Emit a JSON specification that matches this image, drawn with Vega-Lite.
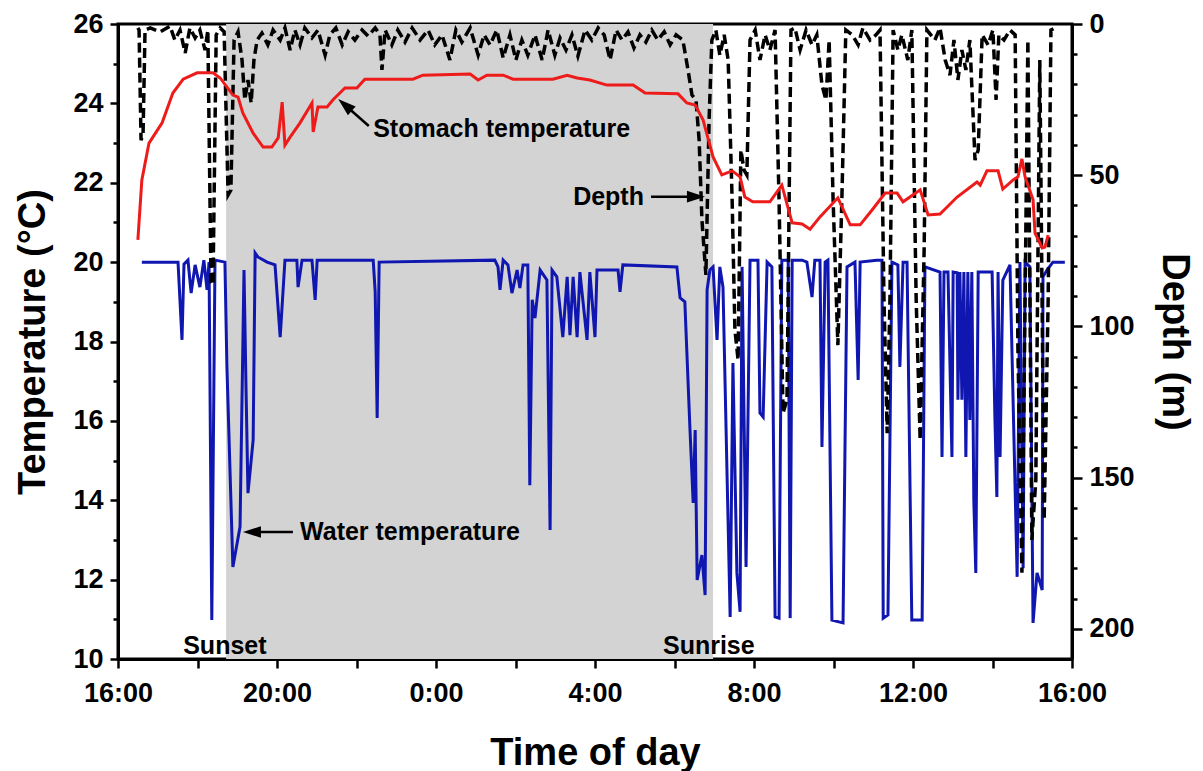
{
  "$schema": "https://vega.github.io/schema/vega-lite/v6.json",
  "width": 954,
  "height": 635,
  "autosize": {"type": "none"},
  "padding": {"left": 118, "top": 24, "right": 131, "bottom": 112},
  "background": "white",
  "config": {
    "view": {"stroke": "black", "strokeWidth": 3},
    "axis": {
      "grid": false,
      "domainColor": "black",
      "domainWidth": 3,
      "tickColor": "black",
      "tickWidth": 2.5,
      "labelFont": "Liberation Sans",
      "labelFontSize": 27,
      "labelFontWeight": "bold",
      "labelColor": "black",
      "labelFlush": false,
      "labelOverlap": false,
      "labelBound": false,
      "titleFont": "Liberation Sans",
      "titleFontSize": 38,
      "titleFontWeight": "bold",
      "titleColor": "black"
    }
  },
  "datasets": {
    "night": [{"sunset": 18.72, "sunrise": 30.97}],
    "water": [
      {"hour": 16.60, "temp": 20.0}, {"hour": 17.51, "temp": 20.0}, {"hour": 17.61, "temp": 18.04}, {"hour": 17.66, "temp": 19.95},
      {"hour": 17.76, "temp": 20.05}, {"hour": 17.84, "temp": 19.22}, {"hour": 17.94, "temp": 19.93}, {"hour": 18.06, "temp": 19.37},
      {"hour": 18.16, "temp": 20.05}, {"hour": 18.24, "temp": 19.30}, {"hour": 18.29, "temp": 20.0}, {"hour": 18.36, "temp": 10.98},
      {"hour": 18.44, "temp": 20.05}, {"hour": 18.69, "temp": 20.0}, {"hour": 18.74, "temp": 17.36}, {"hour": 18.89, "temp": 12.32},
      {"hour": 19.07, "temp": 13.33}, {"hour": 19.17, "temp": 19.80}, {"hour": 19.22, "temp": 16.85}, {"hour": 19.27, "temp": 14.18},
      {"hour": 19.40, "temp": 15.52}, {"hour": 19.45, "temp": 20.23}, {"hour": 19.52, "temp": 20.13}, {"hour": 19.75, "temp": 20.0},
      {"hour": 19.95, "temp": 19.93}, {"hour": 20.08, "temp": 18.11}, {"hour": 20.20, "temp": 20.05}, {"hour": 20.50, "temp": 20.05},
      {"hour": 20.53, "temp": 19.37}, {"hour": 20.63, "temp": 20.05}, {"hour": 20.88, "temp": 20.05}, {"hour": 20.96, "temp": 19.05},
      {"hour": 21.01, "temp": 20.05}, {"hour": 22.42, "temp": 20.05}, {"hour": 22.47, "temp": 19.25}, {"hour": 22.52, "temp": 16.07},
      {"hour": 22.57, "temp": 20.0}, {"hour": 25.48, "temp": 20.05}, {"hour": 25.56, "temp": 19.88}, {"hour": 25.61, "temp": 19.30},
      {"hour": 25.69, "temp": 20.05}, {"hour": 25.81, "temp": 19.93}, {"hour": 25.91, "temp": 19.22}, {"hour": 26.04, "temp": 19.80},
      {"hour": 26.11, "temp": 19.35}, {"hour": 26.19, "temp": 19.93}, {"hour": 26.31, "temp": 19.93}, {"hour": 26.36, "temp": 14.38},
      {"hour": 26.42, "temp": 19.05}, {"hour": 26.49, "temp": 18.59}, {"hour": 26.62, "temp": 19.80}, {"hour": 26.79, "temp": 19.55},
      {"hour": 26.87, "temp": 13.25}, {"hour": 26.92, "temp": 19.80}, {"hour": 27.04, "temp": 19.63}, {"hour": 27.19, "temp": 18.11},
      {"hour": 27.30, "temp": 19.63}, {"hour": 27.37, "temp": 18.16}, {"hour": 27.45, "temp": 19.63}, {"hour": 27.55, "temp": 18.11},
      {"hour": 27.62, "temp": 19.75}, {"hour": 27.80, "temp": 18.04}, {"hour": 27.87, "temp": 19.75}, {"hour": 28.00, "temp": 18.11},
      {"hour": 28.05, "temp": 19.80}, {"hour": 28.58, "temp": 19.80}, {"hour": 28.63, "temp": 19.25}, {"hour": 28.70, "temp": 19.93},
      {"hour": 30.06, "temp": 19.88}, {"hour": 30.14, "temp": 19.10}, {"hour": 30.26, "temp": 19.0}, {"hour": 30.39, "temp": 15.77},
      {"hour": 30.47, "temp": 13.93}, {"hour": 30.52, "temp": 15.77}, {"hour": 30.57, "temp": 11.99}, {"hour": 30.69, "temp": 12.62},
      {"hour": 30.77, "temp": 11.61}, {"hour": 30.82, "temp": 19.30}, {"hour": 30.89, "temp": 19.80}, {"hour": 30.97, "temp": 19.88},
      {"hour": 31.07, "temp": 18.04}, {"hour": 31.14, "temp": 19.88}, {"hour": 31.22, "temp": 19.37}, {"hour": 31.40, "temp": 11.06},
      {"hour": 31.47, "temp": 17.46}, {"hour": 31.57, "temp": 12.17}, {"hour": 31.65, "temp": 11.19}, {"hour": 31.70, "temp": 19.88},
      {"hour": 31.80, "temp": 12.32}, {"hour": 31.90, "temp": 20.05}, {"hour": 32.10, "temp": 20.05}, {"hour": 32.15, "temp": 16.20},
      {"hour": 32.23, "temp": 16.10}, {"hour": 32.33, "temp": 20.0}, {"hour": 32.45, "temp": 19.88}, {"hour": 32.53, "temp": 11.06},
      {"hour": 32.63, "temp": 11.03}, {"hour": 32.70, "temp": 20.05}, {"hour": 32.86, "temp": 20.05}, {"hour": 32.91, "temp": 11.03},
      {"hour": 32.96, "temp": 20.05}, {"hour": 33.21, "temp": 20.05}, {"hour": 33.33, "temp": 20.0}, {"hour": 33.46, "temp": 19.12},
      {"hour": 33.53, "temp": 20.05}, {"hour": 33.66, "temp": 20.05}, {"hour": 33.71, "temp": 15.34}, {"hour": 33.79, "temp": 20.0},
      {"hour": 33.86, "temp": 20.05}, {"hour": 33.96, "temp": 10.98}, {"hour": 34.24, "temp": 10.91}, {"hour": 34.34, "temp": 19.88},
      {"hour": 34.54, "temp": 20.0}, {"hour": 34.62, "temp": 17.03}, {"hour": 34.67, "temp": 20.0}, {"hour": 35.09, "temp": 20.05},
      {"hour": 35.22, "temp": 20.05}, {"hour": 35.25, "temp": 11.03}, {"hour": 35.37, "temp": 11.11}, {"hour": 35.47, "temp": 20.0},
      {"hour": 35.62, "temp": 19.93}, {"hour": 35.67, "temp": 17.36}, {"hour": 35.75, "temp": 20.0}, {"hour": 35.85, "temp": 20.0},
      {"hour": 35.97, "temp": 10.98}, {"hour": 36.23, "temp": 10.98}, {"hour": 36.30, "temp": 19.88}, {"hour": 36.68, "temp": 19.75},
      {"hour": 36.73, "temp": 15.09}, {"hour": 36.78, "temp": 19.75}, {"hour": 36.88, "temp": 19.75}, {"hour": 36.98, "temp": 15.09},
      {"hour": 37.01, "temp": 19.75}, {"hour": 37.11, "temp": 19.73}, {"hour": 37.13, "temp": 16.53}, {"hour": 37.18, "temp": 19.75},
      {"hour": 37.23, "temp": 16.53}, {"hour": 37.28, "temp": 19.75}, {"hour": 37.33, "temp": 15.09}, {"hour": 37.38, "temp": 19.75},
      {"hour": 37.43, "temp": 16.02}, {"hour": 37.48, "temp": 19.75}, {"hour": 37.53, "temp": 14.0}, {"hour": 37.58, "temp": 12.17},
      {"hour": 37.64, "temp": 19.75}, {"hour": 37.86, "temp": 19.75}, {"hour": 37.99, "temp": 19.75}, {"hour": 38.06, "temp": 16.10},
      {"hour": 38.11, "temp": 14.08}, {"hour": 38.14, "temp": 19.75}, {"hour": 38.19, "temp": 15.09}, {"hour": 38.26, "temp": 19.55},
      {"hour": 38.44, "temp": 19.93}, {"hour": 38.62, "temp": 12.07}, {"hour": 38.69, "temp": 20.0}, {"hour": 38.77, "temp": 12.29},
      {"hour": 38.82, "temp": 20.0}, {"hour": 38.94, "temp": 19.88}, {"hour": 39.02, "temp": 10.91}, {"hour": 39.12, "temp": 12.17},
      {"hour": 39.25, "temp": 11.74}, {"hour": 39.27, "temp": 19.63}, {"hour": 39.37, "temp": 19.80}, {"hour": 39.52, "temp": 20.0},
      {"hour": 39.82, "temp": 20.0}
    ],
    "stomach": [
      {"hour": 16.50, "temp": 20.56}, {"hour": 16.60, "temp": 22.07}, {"hour": 16.78, "temp": 23.0}, {"hour": 17.11, "temp": 23.51},
      {"hour": 17.38, "temp": 24.26}, {"hour": 17.64, "temp": 24.61}, {"hour": 17.99, "temp": 24.77}, {"hour": 18.39, "temp": 24.77},
      {"hour": 18.57, "temp": 24.64}, {"hour": 18.89, "temp": 24.21}, {"hour": 19.02, "temp": 24.16}, {"hour": 19.14, "temp": 23.76},
      {"hour": 19.40, "temp": 23.25}, {"hour": 19.65, "temp": 22.90}, {"hour": 19.87, "temp": 22.90}, {"hour": 20.03, "temp": 23.13},
      {"hour": 20.13, "temp": 24.03}, {"hour": 20.20, "temp": 22.95}, {"hour": 20.33, "temp": 23.15}, {"hour": 20.58, "temp": 23.51},
      {"hour": 20.88, "temp": 24.01}, {"hour": 20.91, "temp": 23.28}, {"hour": 21.03, "temp": 23.91}, {"hour": 21.26, "temp": 23.91},
      {"hour": 21.41, "temp": 24.09}, {"hour": 21.71, "temp": 24.39}, {"hour": 22.01, "temp": 24.39}, {"hour": 22.21, "temp": 24.61},
      {"hour": 23.42, "temp": 24.61}, {"hour": 23.67, "temp": 24.71}, {"hour": 24.86, "temp": 24.74}, {"hour": 25.06, "temp": 24.59},
      {"hour": 25.28, "temp": 24.71}, {"hour": 25.69, "temp": 24.71}, {"hour": 25.94, "temp": 24.61}, {"hour": 26.94, "temp": 24.61},
      {"hour": 27.30, "temp": 24.71}, {"hour": 27.55, "temp": 24.64}, {"hour": 27.87, "temp": 24.59}, {"hour": 28.30, "temp": 24.46},
      {"hour": 28.96, "temp": 24.46}, {"hour": 29.26, "temp": 24.26}, {"hour": 30.09, "temp": 24.24}, {"hour": 30.31, "temp": 24.01},
      {"hour": 30.52, "temp": 23.96}, {"hour": 30.72, "temp": 23.58}, {"hour": 30.97, "temp": 22.65}, {"hour": 31.19, "temp": 22.20},
      {"hour": 31.45, "temp": 22.30}, {"hour": 31.65, "temp": 22.15}, {"hour": 31.77, "temp": 21.64}, {"hour": 31.97, "temp": 21.52},
      {"hour": 32.40, "temp": 21.52}, {"hour": 32.70, "temp": 21.94}, {"hour": 32.96, "temp": 20.99}, {"hour": 33.21, "temp": 20.96},
      {"hour": 33.41, "temp": 20.83}, {"hour": 33.66, "temp": 21.14}, {"hour": 34.11, "temp": 21.62}, {"hour": 34.42, "temp": 20.94},
      {"hour": 34.67, "temp": 20.94}, {"hour": 34.99, "temp": 21.34}, {"hour": 35.30, "temp": 21.74}, {"hour": 35.60, "temp": 21.74},
      {"hour": 35.75, "temp": 21.52}, {"hour": 36.18, "temp": 21.82}, {"hour": 36.38, "temp": 21.19}, {"hour": 36.68, "temp": 21.21},
      {"hour": 37.11, "temp": 21.64}, {"hour": 37.61, "temp": 22.02}, {"hour": 37.69, "temp": 21.94}, {"hour": 37.86, "temp": 22.30},
      {"hour": 38.14, "temp": 22.30}, {"hour": 38.26, "temp": 21.84}, {"hour": 38.52, "temp": 22.07}, {"hour": 38.64, "temp": 22.15},
      {"hour": 38.74, "temp": 22.60}, {"hour": 38.82, "temp": 22.15}, {"hour": 39.02, "temp": 21.57}, {"hour": 39.07, "temp": 20.73},
      {"hour": 39.25, "temp": 20.36}, {"hour": 39.32, "temp": 20.38}, {"hour": 39.40, "temp": 20.68}
    ],
    "depth": [
      {"hour": 16.50, "depth": 1.3}, {"hour": 16.53, "depth": 2.0}, {"hour": 16.58, "depth": 38.4}, {"hour": 16.63, "depth": 36.7},
      {"hour": 16.68, "depth": 2.0}, {"hour": 16.81, "depth": 1.3}, {"hour": 17.06, "depth": 2.6}, {"hour": 17.31, "depth": 0.7},
      {"hour": 17.43, "depth": 5.3}, {"hour": 17.56, "depth": 2.0}, {"hour": 17.69, "depth": 9.6}, {"hour": 17.81, "depth": 1.3},
      {"hour": 17.94, "depth": 4.6}, {"hour": 18.06, "depth": 2.0}, {"hour": 18.19, "depth": 8.6}, {"hour": 18.26, "depth": 2.0},
      {"hour": 18.34, "depth": 85.3}, {"hour": 18.39, "depth": 86.3}, {"hour": 18.47, "depth": 3.6}, {"hour": 18.57, "depth": 1.3},
      {"hour": 18.67, "depth": 2.6}, {"hour": 18.77, "depth": 56.5}, {"hour": 18.84, "depth": 54.9}, {"hour": 18.92, "depth": 5.3},
      {"hour": 19.02, "depth": 2.6}, {"hour": 19.12, "depth": 11.9}, {"hour": 19.19, "depth": 25.1}, {"hour": 19.27, "depth": 18.5},
      {"hour": 19.35, "depth": 26.1}, {"hour": 19.42, "depth": 11.9}, {"hour": 19.50, "depth": 5.3}, {"hour": 19.62, "depth": 3.0},
      {"hour": 19.77, "depth": 6.9}, {"hour": 19.90, "depth": 2.0}, {"hour": 20.08, "depth": 5.3}, {"hour": 20.20, "depth": 1.3},
      {"hour": 20.33, "depth": 8.6}, {"hour": 20.45, "depth": 2.0}, {"hour": 20.58, "depth": 6.9}, {"hour": 20.70, "depth": 1.3},
      {"hour": 20.88, "depth": 4.6}, {"hour": 21.03, "depth": 2.0}, {"hour": 21.21, "depth": 10.3}, {"hour": 21.33, "depth": 3.6},
      {"hour": 21.48, "depth": 1.3}, {"hour": 21.64, "depth": 6.9}, {"hour": 21.79, "depth": 2.6}, {"hour": 21.96, "depth": 5.3},
      {"hour": 22.14, "depth": 2.0}, {"hour": 22.29, "depth": 4.0}, {"hour": 22.47, "depth": 1.3}, {"hour": 22.59, "depth": 3.6},
      {"hour": 22.64, "depth": 15.2}, {"hour": 22.72, "depth": 2.0}, {"hour": 22.89, "depth": 6.9}, {"hour": 23.04, "depth": 2.0},
      {"hour": 23.22, "depth": 6.0}, {"hour": 23.40, "depth": 1.3}, {"hour": 23.60, "depth": 5.3}, {"hour": 23.80, "depth": 2.0},
      {"hour": 23.97, "depth": 6.9}, {"hour": 24.15, "depth": 3.6}, {"hour": 24.35, "depth": 11.9}, {"hour": 24.50, "depth": 2.0},
      {"hour": 24.65, "depth": 6.0}, {"hour": 24.86, "depth": 1.3}, {"hour": 25.06, "depth": 10.3}, {"hour": 25.21, "depth": 3.6},
      {"hour": 25.36, "depth": 6.9}, {"hour": 25.53, "depth": 2.0}, {"hour": 25.69, "depth": 11.2}, {"hour": 25.86, "depth": 3.6},
      {"hour": 26.01, "depth": 11.9}, {"hour": 26.16, "depth": 5.3}, {"hour": 26.31, "depth": 10.3}, {"hour": 26.49, "depth": 3.6},
      {"hour": 26.67, "depth": 11.9}, {"hour": 26.82, "depth": 2.0}, {"hour": 26.99, "depth": 10.3}, {"hour": 27.12, "depth": 4.6},
      {"hour": 27.27, "depth": 8.6}, {"hour": 27.42, "depth": 3.6}, {"hour": 27.57, "depth": 10.6}, {"hour": 27.75, "depth": 2.0},
      {"hour": 27.92, "depth": 5.3}, {"hour": 28.08, "depth": 1.3}, {"hour": 28.23, "depth": 3.6}, {"hour": 28.38, "depth": 11.9},
      {"hour": 28.53, "depth": 2.0}, {"hour": 28.68, "depth": 5.3}, {"hour": 28.83, "depth": 2.6}, {"hour": 28.98, "depth": 7.9},
      {"hour": 29.13, "depth": 3.6}, {"hour": 29.28, "depth": 6.0}, {"hour": 29.43, "depth": 2.0}, {"hour": 29.58, "depth": 5.3},
      {"hour": 29.74, "depth": 2.6}, {"hour": 29.89, "depth": 6.9}, {"hour": 30.04, "depth": 3.6}, {"hour": 30.21, "depth": 5.3},
      {"hour": 30.34, "depth": 15.2}, {"hour": 30.44, "depth": 23.5}, {"hour": 30.54, "depth": 25.1}, {"hour": 30.62, "depth": 38.4},
      {"hour": 30.69, "depth": 64.8}, {"hour": 30.79, "depth": 83.0}, {"hour": 30.87, "depth": 31.7}, {"hour": 30.94, "depth": 5.3},
      {"hour": 31.04, "depth": 2.0}, {"hour": 31.14, "depth": 10.3}, {"hour": 31.25, "depth": 3.6}, {"hour": 31.35, "depth": 11.9},
      {"hour": 31.45, "depth": 58.2}, {"hour": 31.52, "depth": 101.2}, {"hour": 31.60, "depth": 111.1}, {"hour": 31.67, "depth": 41.7},
      {"hour": 31.75, "depth": 48.3}, {"hour": 31.82, "depth": 49.9}, {"hour": 31.90, "depth": 5.3}, {"hour": 32.03, "depth": 2.0},
      {"hour": 32.15, "depth": 11.9}, {"hour": 32.28, "depth": 3.6}, {"hour": 32.40, "depth": 8.6}, {"hour": 32.53, "depth": 2.0},
      {"hour": 32.63, "depth": 58.2}, {"hour": 32.73, "depth": 128.6}, {"hour": 32.83, "depth": 124.3}, {"hour": 32.93, "depth": 2.0},
      {"hour": 33.03, "depth": 1.3}, {"hour": 33.16, "depth": 8.6}, {"hour": 33.31, "depth": 2.0}, {"hour": 33.46, "depth": 6.9},
      {"hour": 33.58, "depth": 3.6}, {"hour": 33.71, "depth": 20.2}, {"hour": 33.81, "depth": 25.1}, {"hour": 33.89, "depth": 5.3},
      {"hour": 33.99, "depth": 58.2}, {"hour": 34.11, "depth": 106.2}, {"hour": 34.21, "depth": 58.2}, {"hour": 34.31, "depth": 2.0},
      {"hour": 34.47, "depth": 3.6}, {"hour": 34.62, "depth": 6.9}, {"hour": 34.74, "depth": 1.3}, {"hour": 34.92, "depth": 5.3},
      {"hour": 35.07, "depth": 3.6}, {"hour": 35.17, "depth": 2.0}, {"hour": 35.27, "depth": 91.3}, {"hour": 35.35, "depth": 135.3},
      {"hour": 35.42, "depth": 91.3}, {"hour": 35.50, "depth": 2.0}, {"hour": 35.62, "depth": 8.6}, {"hour": 35.72, "depth": 3.6},
      {"hour": 35.87, "depth": 11.9}, {"hour": 35.97, "depth": 2.0}, {"hour": 36.08, "depth": 91.3}, {"hour": 36.18, "depth": 137.6},
      {"hour": 36.28, "depth": 74.7}, {"hour": 36.35, "depth": 2.0}, {"hour": 36.55, "depth": 5.3}, {"hour": 36.68, "depth": 1.3},
      {"hour": 36.81, "depth": 11.9}, {"hour": 36.93, "depth": 16.9}, {"hour": 37.03, "depth": 5.3}, {"hour": 37.13, "depth": 18.5},
      {"hour": 37.23, "depth": 8.6}, {"hour": 37.33, "depth": 15.2}, {"hour": 37.43, "depth": 5.3}, {"hour": 37.56, "depth": 45.0},
      {"hour": 37.64, "depth": 41.7}, {"hour": 37.74, "depth": 3.6}, {"hour": 37.89, "depth": 6.9}, {"hour": 38.01, "depth": 2.0},
      {"hour": 38.09, "depth": 25.1}, {"hour": 38.16, "depth": 3.6}, {"hour": 38.29, "depth": 5.3}, {"hour": 38.44, "depth": 2.0},
      {"hour": 38.57, "depth": 3.6}, {"hour": 38.64, "depth": 107.8}, {"hour": 38.74, "depth": 181.5}, {"hour": 38.82, "depth": 91.3},
      {"hour": 38.89, "depth": 5.3}, {"hour": 38.99, "depth": 170.6}, {"hour": 39.09, "depth": 150.8}, {"hour": 39.19, "depth": 11.9},
      {"hour": 39.30, "depth": 164.0}, {"hour": 39.40, "depth": 91.3}, {"hour": 39.47, "depth": 2.0}, {"hour": 39.57, "depth": 1.3}
    ],
    "notes": [
      {"hour": 22.42, "temp": 23.35, "label": "Stomach temperature"},
      {"hour": 27.45, "temp": 21.65, "label": "Depth"},
      {"hour": 20.58, "temp": 13.20, "label": "Water temperature"},
      {"hour": 17.64, "temp": 10.33, "label": "Sunset"},
      {"hour": 29.71, "temp": 10.33, "label": "Sunrise"}
    ],
    "arrows": [
      {"fromHour": 22.31, "fromTemp": 23.43, "toHour": 21.71, "toTemp": 23.96, "angle": 311},
      {"fromHour": 29.41, "fromTemp": 21.65, "toHour": 30.54, "toTemp": 21.65, "angle": 90},
      {"fromHour": 20.40, "fromTemp": 13.20, "toHour": 19.37, "toTemp": 13.20, "angle": 270}
    ],
    "tempTicks": [{"t": 20}],
    "depthTicks": [{"d": 100}]
  },
  "layer": [
    {
      "data": {"name": "night"},
      "mark": {"type": "rect", "color": "#d3d3d3"},
      "encoding": {
        "x": {
          "field": "sunset",
          "type": "quantitative",
          "scale": {"domain": [16, 40], "nice": false, "zero": false},
          "axis": {
            "title": "Time of day",
            "orient": "bottom",
            "values": [16, 18, 20, 22, 24, 26, 28, 30, 32, 34, 36, 38, 40],
            "labelExpr": "datum.value % 4 == 0 ? (datum.value % 24) + ':00' : ''",
            "tickSize": 9,
            "labelPadding": 12,
            "titlePadding": 28
          }
        },
        "x2": {"field": "sunrise"}
      }
    },
    {
      "data": {"name": "water"},
      "mark": {"type": "line", "color": "#1016b0", "strokeWidth": 3},
      "encoding": {
        "x": {"field": "hour", "type": "quantitative", "scale": {"domain": [16, 40], "nice": false, "zero": false}, "axis": null},
        "y": {
          "field": "temp",
          "type": "quantitative",
          "scale": {"domain": [10, 26], "nice": false, "zero": false},
          "axis": {
            "title": "Temperature (°C)",
            "orient": "left",
            "values": [10, 12, 14, 16, 18, 20, 22, 24, 26],
            "tickSize": 8,
            "labelPadding": 7,
            "titlePadding": 20
          }
        }
      }
    },
    {
      "data": {"name": "tempTicks"},
      "mark": {"type": "point", "opacity": 0},
      "encoding": {
        "y": {
          "field": "t",
          "type": "quantitative",
          "scale": {"domain": [10, 26], "nice": false, "zero": false},
          "axis": {
            "title": null,
            "orient": "left",
            "values": [11, 13, 15, 17, 19, 21, 23, 25],
            "labels": false,
            "domain": false,
            "tickSize": 5
          }
        }
      }
    },
    {
      "data": {"name": "depth"},
      "mark": {"type": "line", "color": "black", "strokeWidth": 3.5, "strokeDash": [10, 5]},
      "encoding": {
        "x": {"field": "hour", "type": "quantitative", "scale": {"domain": [16, 40], "nice": false, "zero": false}, "axis": null},
        "y": {
          "field": "depth",
          "type": "quantitative",
          "scale": {"domain": [0, 210], "reverse": true, "nice": false, "zero": false},
          "axis": {
            "title": "Depth (m)",
            "orient": "right",
            "values": [0, 50, 100, 150, 200],
            "tickSize": 10,
            "labelPadding": 7,
            "titlePadding": 20
          }
        }
      }
    },
    {
      "data": {"name": "depthTicks"},
      "mark": {"type": "point", "opacity": 0},
      "encoding": {
        "y": {
          "field": "d",
          "type": "quantitative",
          "scale": {"domain": [0, 210], "reverse": true, "nice": false, "zero": false},
          "axis": {
            "title": null,
            "orient": "right",
            "values": [10, 20, 30, 40, 60, 70, 80, 90, 110, 120, 130, 140, 160, 170, 180, 190],
            "labels": false,
            "domain": false,
            "tickSize": 5
          }
        }
      }
    },
    {
      "data": {"name": "stomach"},
      "mark": {"type": "line", "color": "#ee1b1b", "strokeWidth": 3},
      "encoding": {
        "x": {"field": "hour", "type": "quantitative", "scale": {"domain": [16, 40], "nice": false, "zero": false}, "axis": null},
        "y": {"field": "temp", "type": "quantitative", "scale": {"domain": [10, 26], "nice": false, "zero": false}, "axis": null}
      }
    },
    {
      "data": {"name": "arrows"},
      "mark": {"type": "rule", "color": "black", "strokeWidth": 2.5},
      "encoding": {
        "x": {"field": "fromHour", "type": "quantitative", "scale": {"domain": [16, 40], "nice": false, "zero": false}, "axis": null},
        "y": {"field": "fromTemp", "type": "quantitative", "scale": {"domain": [10, 26], "nice": false, "zero": false}, "axis": null},
        "x2": {"field": "toHour"},
        "y2": {"field": "toTemp"}
      }
    },
    {
      "data": {"name": "arrows"},
      "mark": {"type": "point", "shape": "M0,-1L0.65,1L-0.65,1Z", "filled": true, "color": "black", "opacity": 1, "size": 324},
      "encoding": {
        "x": {"field": "toHour", "type": "quantitative", "scale": {"domain": [16, 40], "nice": false, "zero": false}, "axis": null},
        "y": {"field": "toTemp", "type": "quantitative", "scale": {"domain": [10, 26], "nice": false, "zero": false}, "axis": null},
        "angle": {"field": "angle", "type": "quantitative", "scale": null}
      }
    },
    {
      "data": {"name": "notes"},
      "mark": {"type": "text", "align": "left", "baseline": "middle", "font": "Liberation Sans", "fontSize": 25, "fontWeight": "bold", "color": "black"},
      "encoding": {
        "x": {"field": "hour", "type": "quantitative", "scale": {"domain": [16, 40], "nice": false, "zero": false}, "axis": null},
        "y": {"field": "temp", "type": "quantitative", "scale": {"domain": [10, 26], "nice": false, "zero": false}, "axis": null},
        "text": {"field": "label"}
      }
    }
  ],
  "resolve": {"scale": {"y": "independent"}, "axis": {"x": "independent", "y": "independent"}}
}
